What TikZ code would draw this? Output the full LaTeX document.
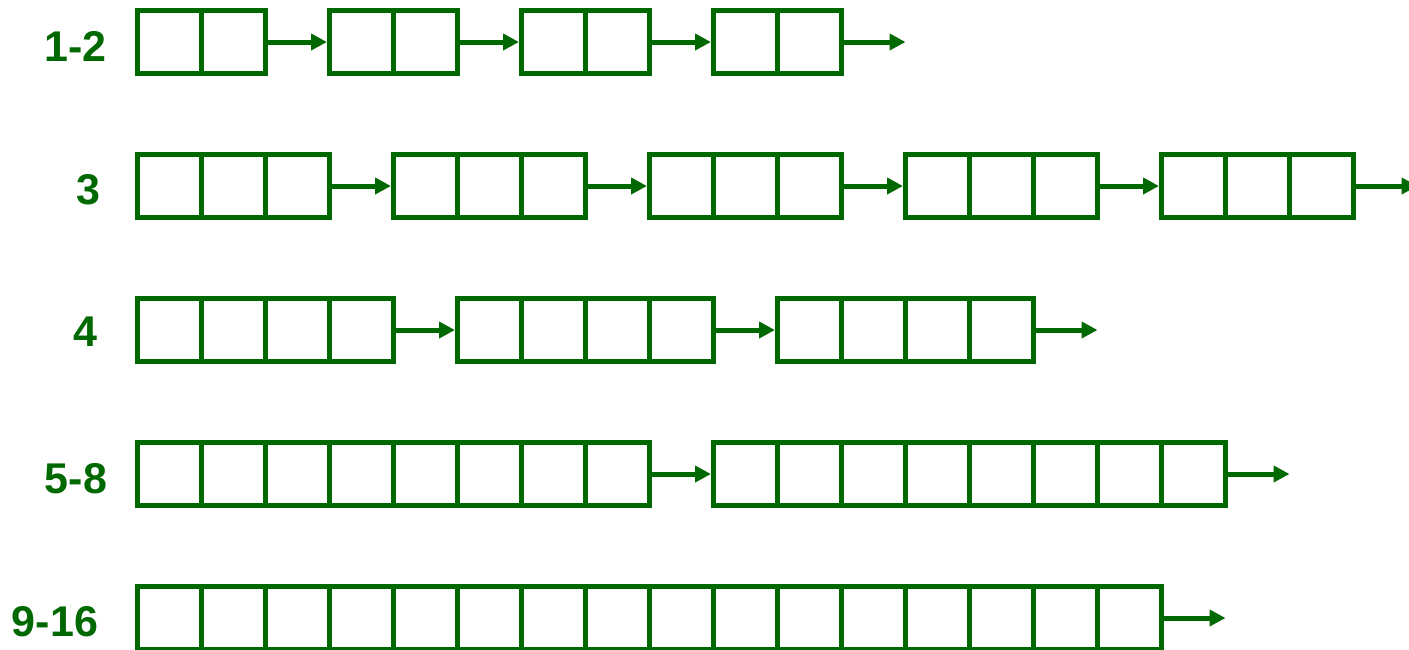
\documentclass[tikz,border=0pt]{standalone}
\usepackage{fontspec}
\setmainfont{Liberation Sans}
\usetikzlibrary{arrows.meta}
\definecolor{dg}{RGB}{0,104,0}
\begin{document}
\begin{tikzpicture}[x=1pt,y=-1pt,line width=5pt,
  blk/.style={draw=dg,minimum height=63,inner sep=0,anchor=west},
  lab/.style={text=dg,font=\fontsize{43}{43}\selectfont\bfseries,inner sep=0},
  arr/.style={draw=dg,-{Triangle[length=16pt,width=16pt]}}]
\useasboundingbox (0,0) rectangle (1409,649);
\foreach \r/\n/\k/\lab/\lx/\ly in {0/2/4/1-2/75.5/4, 1/3/5/3/88.5/4, 2/4/3/4/85.5/2, 3/8/2/5-8/76/4.5, 4/16/1/9-16/55/4}{
  \pgfmathsetmacro\yy{42+144*\r}
  \node[lab] (L\r) at (\lx,\yy+\ly) {\lab};
  \pgfmathtruncatemacro\nm{\n-1}
  \foreach \j in {1,...,\k}{
    \pgfmathsetmacro\xx{137.5+(\j-1)*(64*\n+64)}
    \node[blk,minimum width=64*\n] (B\r-\j) at (\xx-2.5,\yy) {};
    \foreach \c in {1,...,\nm}{
      \draw[dg] (\xx+64*\c,\yy-31.5) -- (\xx+64*\c,\yy+31.5);
    }
  }
  \pgfmathsetmacro\ex{137.5+\k*(64*\n+64)}
  \coordinate (E\r) at (\ex,\yy);
}
% connectors
\draw[arr] (B0-1.east) -- (B0-2.west);
\draw[arr] (B0-2.east) -- (B0-3.west);
\draw[arr] (B0-3.east) -- (B0-4.west);
\draw[arr] (B0-4.east) -- (E0);
\draw[arr] (B1-1.east) -- (B1-2.west);
\draw[arr] (B1-2.east) -- (B1-3.west);
\draw[arr] (B1-3.east) -- (B1-4.west);
\draw[arr] (B1-4.east) -- (B1-5.west);
\draw[arr] (B1-5.east) -- (E1);
\draw[arr] (B2-1.east) -- (B2-2.west);
\draw[arr] (B2-2.east) -- (B2-3.west);
\draw[arr] (B2-3.east) -- (E2);
\draw[arr] (B3-1.east) -- (B3-2.west);
\draw[arr] (B3-2.east) -- (E3);
\draw[arr] (B4-1.east) -- (E4);
\end{tikzpicture}
\end{document}
